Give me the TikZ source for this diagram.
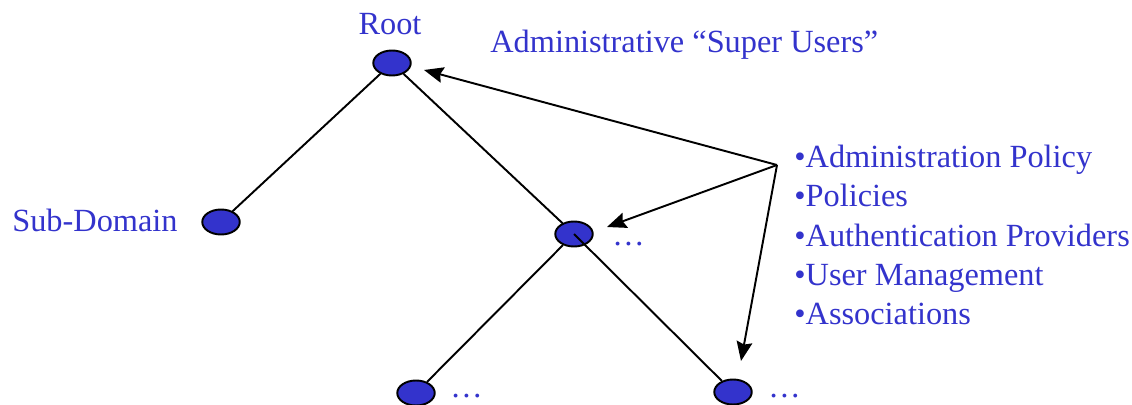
\documentclass[tikz,border=0pt]{standalone}
\usepackage{fontspec}
\setmainfont{Liberation Serif}
\usetikzlibrary{shapes.geometric,arrows.meta}
\definecolor{domblue}{RGB}{51,51,204}
\tikzset{
    domnode/.style={ellipse,draw=black,fill=domblue,line width=1.1pt,
        minimum width=0.75cm,minimum height=0.5cm,inner sep=0pt},
    lbl/.style={text=domblue,font=\fontsize{18.4}{22}\selectfont,inner sep=0pt}
}
\begin{document}
\begin{tikzpicture}[>={Stealth[length=11pt,width=9pt,inset=1.5pt]},x=0.02cm,y=-0.02cm]
    \useasboundingbox(0,0)rectangle(1132,405);
    % domain tree
    \node[domnode] (root) at (392,63) {};
    \node[domnode] (sub) at (221,222) {};
    \node[domnode] (mid) at (574,234) {};
    \node[domnode] (lowleft) at (416,393) {};
    \node[domnode] (lowright) at (733,392) {};
    \draw[line width=1.1pt] (root)--(sub);
    \draw[line width=1.1pt] (root)--(mid);
    \draw[line width=1.1pt] (mid)--(lowleft);
    \draw[line width=1.1pt] (mid.center)--(lowright);
    % labels
    \node[lbl,anchor=base] (rootlbl) at (390,35) {Root};
    \node[lbl,anchor=base west] (superlbl) at (490,53) {Administrative “Super Users”};
    \node[lbl,anchor=base west] (sublbl) at (12,232) {Sub-Domain};
    \node[lbl,anchor=base west] (middots) at (612,245) {…};
    \node[lbl,anchor=base west] (leftdots) at (450,397) {…};
    \node[lbl,anchor=base west] (rightdots) at (768,397) {…};
    \foreach \txt [count=\i from 0] in {Administration Policy,Policies,Authentication Providers,User Management,Associations}
        {
            \node[lbl,anchor=base west] (item\i) at (794,168+39*\i) {•\txt};
        }
    % admin arrows
    \coordinate (src) at (777,165);
    \coordinate (roottip) at (424,70);
    \coordinate (midtip) at (607,227);
    \coordinate (lowtip) at (741,361);
    \draw[->,line width=1.1pt] (src)--(roottip);
    \draw[->,line width=1.1pt] (src)--(midtip);
    \draw[->,line width=1.1pt] (src)--(lowtip);
\end{tikzpicture}
\end{document}
